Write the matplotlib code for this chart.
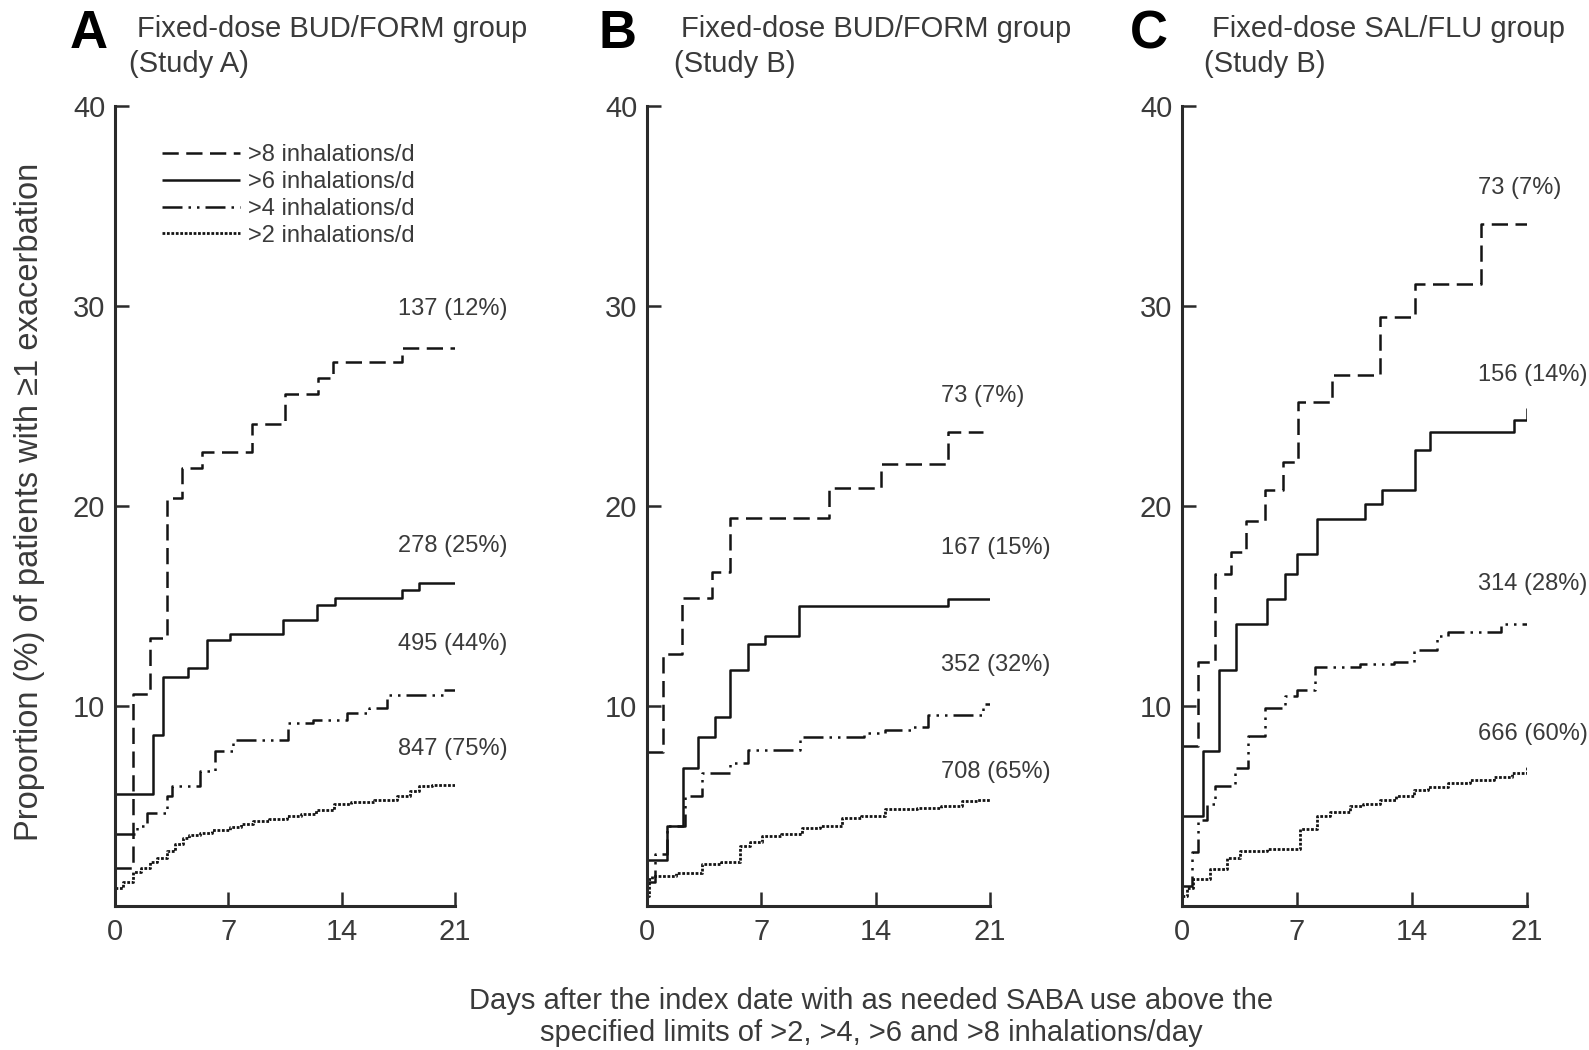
import matplotlib
matplotlib.use("Agg")
import matplotlib.pyplot as plt

plt.rcParams['font.family'] = ['Liberation Sans', 'DejaVu Sans']

# ---------------- data ----------------
days_ticks = [0, 7, 14, 21]
pct_ticks = [10, 20, 30, 40]
series_labels = [">8 inhalations/d", ">6 inhalations/d", ">4 inhalations/d", ">2 inhalations/d"]

# Panel A: Fixed-dose BUD/FORM group (Study A)
A_gt8_x = [0, 1.11, 2.16, 3.21, 4.14, 5.37, 8.46, 10.49, 12.53, 13.46, 17.72, 21]
A_gt8_y = [1.9, 10.6, 13.4, 20.4, 21.9, 22.7, 24.1, 25.6, 26.4, 27.2, 27.9, 27.9]
A_gt6_x = [0, 2.37, 2.98, 4.53, 5.66, 7.1, 10.4, 12.45, 13.6, 17.7, 18.8, 21]
A_gt6_y = [5.6, 8.55, 11.45, 11.9, 13.3, 13.6, 14.3, 15.05, 15.4, 15.8, 16.15, 16.15]
A_gt4_x = [0, 1.34, 1.96, 3.19, 3.5, 5.25, 6.17, 7.3, 10.7, 12.25, 14.3, 15.7, 16.77, 20.3, 21]
A_gt4_y = [3.6, 4.0, 4.66, 5.49, 6.0, 6.73, 7.73, 8.31, 9.14, 9.3, 9.63, 9.88, 10.55, 10.8, 10.8]
A_gt2_x = [0, 0.5, 1.13, 1.6, 2.16, 2.6, 3.19, 3.7, 4.22, 4.6, 5.25, 6.0, 7.1, 7.8, 8.54, 9.5,
           10.6, 11.5, 12.4, 13.5, 14.6, 16.0, 17.4, 18.2, 18.8, 19.6, 21]
A_gt2_y = [0.9, 1.2, 1.68, 1.9, 2.18, 2.4, 2.76, 3.1, 3.42, 3.55, 3.67, 3.8, 3.97, 4.1, 4.25, 4.35,
           4.5, 4.6, 4.8, 5.08, 5.2, 5.3, 5.5, 5.75, 6.0, 6.05, 6.1]

# Panel B: Fixed-dose BUD/FORM group (Study B)
B_gt8_x = [0, 1.0, 2.13, 3.97, 5.09, 11.12, 14.3, 18.4, 20.6]
B_gt8_y = [7.7, 12.6, 15.4, 16.7, 19.4, 20.9, 22.1, 23.7, 23.7]
B_gt6_x = [0, 1.2, 2.23, 3.15, 4.17, 5.09, 6.2, 7.24, 9.28, 18.4, 21]
B_gt6_y = [2.3, 4.0, 6.9, 8.47, 9.47, 11.8, 13.1, 13.5, 15.0, 15.36, 15.36]
B_gt4_x = [0, 0.5, 1.2, 2.33, 3.35, 5.09, 6.2, 9.39, 13.3, 14.6, 16.3, 17.2, 20.6, 21]
B_gt4_y = [1.2, 2.6, 4.0, 5.48, 6.65, 7.15, 7.8, 8.47, 8.65, 8.8, 8.97, 9.55, 10.1, 10.1]
B_gt2_x = [0, 0.1, 0.3, 1.8, 3.35, 4.5, 5.7, 6.3, 7.03, 8.2, 9.5, 10.6, 11.94, 13.1, 14.6,
           16.5, 18.0, 19.3, 20.2, 21]
B_gt2_y = [0.5, 1.34, 1.5, 1.65, 2.09, 2.2, 3.0, 3.2, 3.5, 3.6, 3.9, 4.0, 4.41, 4.5, 4.83,
           4.9, 5.0, 5.24, 5.28, 5.3]

# Panel C: Fixed-dose SAL/FLU group (Study B)
C_gt8_x = [0, 1.0, 2.0, 3.0, 3.9, 5.06, 6.16, 7.08, 9.13, 12.07, 14.2, 18.17, 21]
C_gt8_y = [8.0, 12.2, 16.6, 17.7, 19.25, 20.8, 22.2, 25.2, 26.55, 29.45, 31.1, 34.1, 34.1]
C_gt6_x = [0, 1.3, 2.28, 3.29, 5.16, 6.28, 6.99, 8.2, 11.16, 12.18, 14.2, 15.1, 20.2, 21]
C_gt6_y = [4.5, 7.73, 11.8, 14.1, 15.36, 16.6, 17.6, 19.34, 20.1, 20.8, 22.8, 23.7, 24.3, 24.9]
C_gt4_x = [0, 0.6, 1.0, 1.5, 2.0, 3.2, 4.04, 5.06, 6.28, 7.0, 8.1, 10.85, 12.9, 14.1, 15.5, 16.2, 19.4, 21]
C_gt4_y = [1.0, 2.7, 4.3, 5.1, 6.0, 6.9, 8.5, 9.9, 10.5, 10.8, 11.95, 12.1, 12.2, 12.8, 13.5, 13.7, 14.1, 14.1]
C_gt2_x = [0, 0.3, 0.69, 1.7, 2.72, 3.5, 5.2, 7.2, 8.2, 9.0, 10.2, 11.0, 12.07, 13.0, 14.1,
           15.0, 16.2, 17.5, 19.0, 20.1, 21]
C_gt2_y = [0.5, 0.9, 1.34, 1.84, 2.42, 2.75, 2.85, 3.83, 4.49, 4.7, 4.99, 5.1, 5.32, 5.5, 5.82,
           5.95, 6.15, 6.3, 6.45, 6.65, 6.98]

# end-of-curve annotations
A_notes = ["137 (12%)", "278 (25%)", "495 (44%)", "847 (75%)"]
A_note_y = [29.85, 18.0, 13.1, 7.85]
B_notes = ["73 (7%)", "167 (15%)", "352 (32%)", "708 (65%)"]
B_note_y = [25.5, 17.9, 12.05, 6.7]
C_notes = ["73 (7%)", "156 (14%)", "314 (28%)", "666 (60%)"]
C_note_y = [35.9, 26.55, 16.1, 8.6]

panel_letters = ["A", "B", "C"]
panel_titles = ["Fixed-dose BUD/FORM group", "Fixed-dose BUD/FORM group", "Fixed-dose SAL/FLU group"]
panel_subtitles = ["(Study A)", "(Study B)", "(Study B)"]

ylabel = "Proportion (%) of patients with \u22651 exacerbation"
xlabel = ("Days after the index date with as needed SABA use above the\n"
          "specified limits of >2, >4, >6 and >8 inhalations/day")

# ---------------- styling ----------------
W, H = 1589, 1050
fig = plt.figure(figsize=(W / 100, H / 100), dpi=100)
fig.patch.set_facecolor("white")

LINE = "#141414"
TXT = "#3a3a3a"
styles = [
    dict(linestyle=(0, (6.5, 3)), lw=1.8),
    dict(linestyle="-", lw=1.8),
    dict(linestyle=(0, (8, 2.4, 1, 2.4, 1, 2.4)), lw=1.8),
    dict(linestyle=(0, (1, 0.6)), lw=2.0),
]

panels = [
    dict(left=115, right=455, data=[(A_gt8_x, A_gt8_y), (A_gt6_x, A_gt6_y), (A_gt4_x, A_gt4_y), (A_gt2_x, A_gt2_y)],
         notes=A_notes, note_y=A_note_y, note_x=17.5, letter_x=70, title_x=137, sub_x=129),
    dict(left=647, right=990, data=[(B_gt8_x, B_gt8_y), (B_gt6_x, B_gt6_y), (B_gt4_x, B_gt4_y), (B_gt2_x, B_gt2_y)],
         notes=B_notes, note_y=B_note_y, note_x=18.0, letter_x=598, title_x=681, sub_x=674),
    dict(left=1182, right=1527, data=[(C_gt8_x, C_gt8_y), (C_gt6_x, C_gt6_y), (C_gt4_x, C_gt4_y), (C_gt2_x, C_gt2_y)],
         notes=C_notes, note_y=C_note_y, note_x=18.0, letter_x=1130, title_x=1212, sub_x=1204),
]

y_top, y_bot = 106, 906

for i, p in enumerate(panels):
    ax = fig.add_axes([p["left"] / W, 1 - y_bot / H, (p["right"] - p["left"]) / W, (y_bot - y_top) / H])
    for (x, y), st, lab in zip(p["data"], styles, series_labels):
        ax.step(x, y, where="post", color=LINE, solid_capstyle="butt", dash_capstyle="butt",
                label=lab, **st)
    ax.set_xlim(0, 21)
    ax.set_ylim(0, 40)
    ax.set_xticks(days_ticks)
    ax.set_yticks(pct_ticks)
    for s in ["top", "right"]:
        ax.spines[s].set_visible(False)
    for s in ["left", "bottom"]:
        ax.spines[s].set_linewidth(2.2)
        ax.spines[s].set_color("#2a2a2a")
    ax.tick_params(direction="in", length=10, width=1.8, color="#2a2a2a",
                   labelsize=21, labelcolor=TXT)
    ax.tick_params(axis="y", pad=7)
    ax.tick_params(axis="x", pad=9)
    for txt, yv in zip(p["notes"], p["note_y"]):
        ax.text(p["note_x"], yv, txt, fontsize=17, color=TXT, ha="left", va="center", clip_on=False)
    if i == 0:
        leg = ax.legend(loc="upper left", bbox_to_anchor=(0.138, 0.952), frameon=False,
                        fontsize=17, handlelength=3.3, handletextpad=0.35, labelspacing=0.2,
                        borderpad=0, borderaxespad=0)
        for t in leg.get_texts():
            t.set_color(TXT)

    fig.text(p["letter_x"] / W, 1 - 48.5 / H, panel_letters[i], fontsize=38, fontweight="bold",
             color="black", ha="left", va="baseline")
    fig.text(p["title_x"] / W, 1 - 37 / H, panel_titles[i], fontsize=21, color=TXT,
             ha="left", va="baseline")
    fig.text(p["sub_x"] / W, 1 - 71.5 / H, panel_subtitles[i], fontsize=21, color=TXT,
             ha="left", va="baseline")

fig.text(30 / W, 1 - 502 / H, ylabel, rotation=90, fontsize=23.5, color=TXT, ha="center", va="center")
fig.text(871 / W, 1 - 1017 / H, xlabel, fontsize=21, color=TXT, ha="center", va="center",
         linespacing=1.2)

fig.savefig("out.png", dpi=100, facecolor="white")
